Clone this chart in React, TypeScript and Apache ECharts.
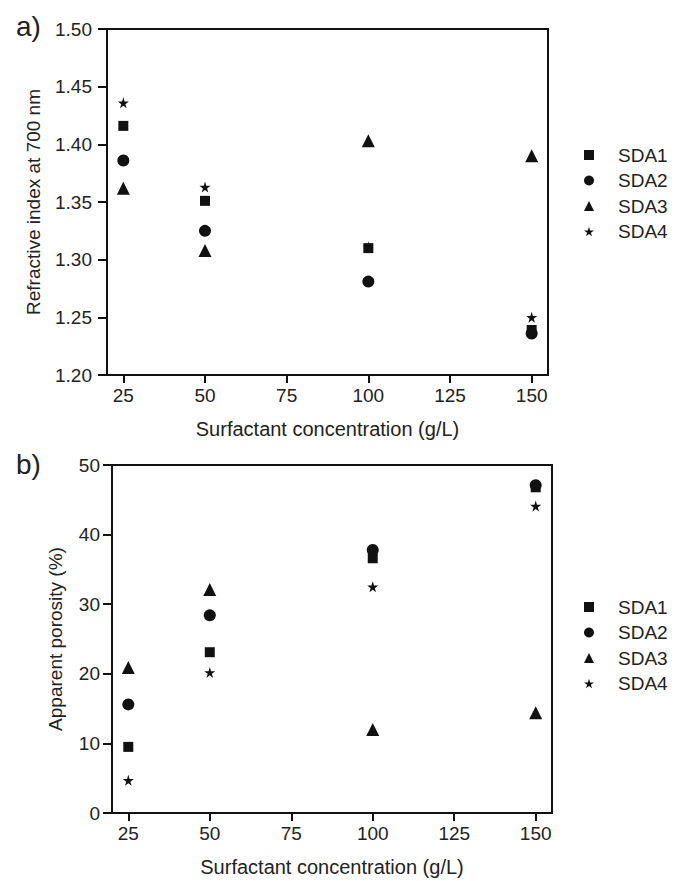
import React, { useEffect, useRef } from "react";
import * as echarts from "echarts";

const concentrations = [25, 50, 100, 150];
const xTicks = [25, 50, 75, 100, 125, 150];
const seriesNames = ["SDA1", "SDA2", "SDA3", "SDA4"];

// Panel a) refractive index at 700 nm
const riSDA1 = [1.416, 1.351, 1.310, 1.239];
const riSDA2 = [1.386, 1.325, 1.281, 1.236];
const riSDA3 = [1.362, 1.308, 1.403, 1.390];
const riSDA4 = [1.436, 1.363, 1.311, 1.250];

// Panel b) apparent porosity (%)
const poSDA1 = [9.5, 23.1, 36.6, 46.8];
const poSDA2 = [15.6, 28.4, 37.8, 47.1];
const poSDA3 = [20.9, 32.1, 12.0, 14.4];
const poSDA4 = [4.7, 20.2, 32.5, 44.1];

const STAR = "path://M50,0 L61,35 L98,35 L68,57 L79,91 L50,70 L21,91 L32,57 L2,35 L39,35 Z";
const symbols = ["rect", "circle", "triangle", STAR];
const symbolSizes = [10, 12, 13, 11];
const legendIconSize = 10;

const INK = "#111111";
const TXT = "#222222";
const FONT = "'Liberation Sans', Arial, sans-serif";

export default function App() {
  const ref = useRef<HTMLDivElement>(null);
  useEffect(() => {
    if (!ref.current) return;
    const chart = echarts.init(ref.current, undefined, { renderer: "svg" });
    const riData = [riSDA1, riSDA2, riSDA3, riSDA4];
    const poData = [poSDA1, poSDA2, poSDA3, poSDA4];

    const mkSeries = (data: number[][], idx: number) =>
      seriesNames.map((name, i) => ({
        name,
        type: "scatter",
        xAxisIndex: idx,
        yAxisIndex: idx,
        symbol: symbols[i],
        symbolSize: symbolSizes[i],
        itemStyle: { color: INK, opacity: 1 },
        data: concentrations.map((c, j) => [c, data[i][j]]),
        z: i === 3 ? 1 : 2,
      }));

    const xAxisBase = (gridIndex: number) => ({
      type: "value",
      gridIndex,
      min: 20,
      max: 155,
      name: "Surfactant concentration (g/L)",
      nameLocation: "middle",
      nameGap: 44,
      nameTextStyle: { color: TXT, fontSize: 20, fontFamily: FONT },
      axisLine: { show: true, lineStyle: { color: INK, width: 2 } },
      axisTick: { show: true, customValues: xTicks, length: 8, lineStyle: { color: INK, width: 2 } },
      axisLabel: { customValues: xTicks, color: TXT, fontSize: 19, fontFamily: FONT, margin: 11 },
      splitLine: { show: false },
    });

    const legendBase = (top: number) => ({
      orient: "vertical",
      left: 579,
      top,
      itemGap: 6.5,
      itemWidth: legendIconSize,
      itemHeight: legendIconSize,
      itemStyle: { opacity: 1 },
      textStyle: { color: TXT, fontSize: 19, lineHeight: 19, fontFamily: FONT, padding: [0, 0, 0, 19] },
      data: seriesNames.map((n, i) => ({ name: n, icon: symbols[i] })),
    });

    chart.setOption({
      animation: false,
      backgroundColor: "#ffffff",
      textStyle: { fontFamily: FONT },
      grid: [
        { left: 107, top: 29, width: 441, height: 346, show: true, borderColor: INK, borderWidth: 2, backgroundColor: "transparent" },
        { left: 112, top: 465, width: 440, height: 348, show: true, borderColor: INK, borderWidth: 2, backgroundColor: "transparent" },
      ],
      xAxis: [xAxisBase(0), xAxisBase(1)],
      yAxis: [
        {
          type: "value",
          gridIndex: 0,
          min: 1.2,
          max: 1.5,
          interval: 0.05,
          name: "Refractive index at 700 nm",
          nameLocation: "middle",
          nameGap: 64,
          nameTextStyle: { color: TXT, fontSize: 19, fontFamily: FONT },
          axisLine: { show: true, lineStyle: { color: INK, width: 2 } },
          axisTick: { show: true, length: 9, lineStyle: { color: INK, width: 2 } },
          axisLabel: { color: TXT, fontSize: 19, fontFamily: FONT, margin: 15, formatter: (v: number) => v.toFixed(2) },
          splitLine: { show: false },
        },
        {
          type: "value",
          gridIndex: 1,
          min: 0,
          max: 50,
          interval: 10,
          name: "Apparent porosity (%)",
          nameLocation: "middle",
          nameGap: 47,
          nameTextStyle: { color: TXT, fontSize: 19, fontFamily: FONT },
          axisLine: { show: true, lineStyle: { color: INK, width: 2 } },
          axisTick: { show: true, length: 9, lineStyle: { color: INK, width: 2 } },
          axisLabel: { color: TXT, fontSize: 19, fontFamily: FONT, margin: 12 },
          splitLine: { show: false },
        },
      ],
      legend: [legendBase(140.5), legendBase(592.5)],
      graphic: [
        { type: "text", left: 16, top: 12, style: { text: "a)", fontSize: 28, fill: TXT, fontFamily: FONT } },
        { type: "text", left: 16, top: 450, style: { text: "b)", fontSize: 28, fill: TXT, fontFamily: FONT } },
      ],
      series: [...mkSeries(riData, 0), ...mkSeries(poData, 1)],
    });
    return () => chart.dispose();
  }, []);
  return <div ref={ref} style={{ position: "fixed", left: 0, top: 0, width: 685, height: 881 }} />;
}
